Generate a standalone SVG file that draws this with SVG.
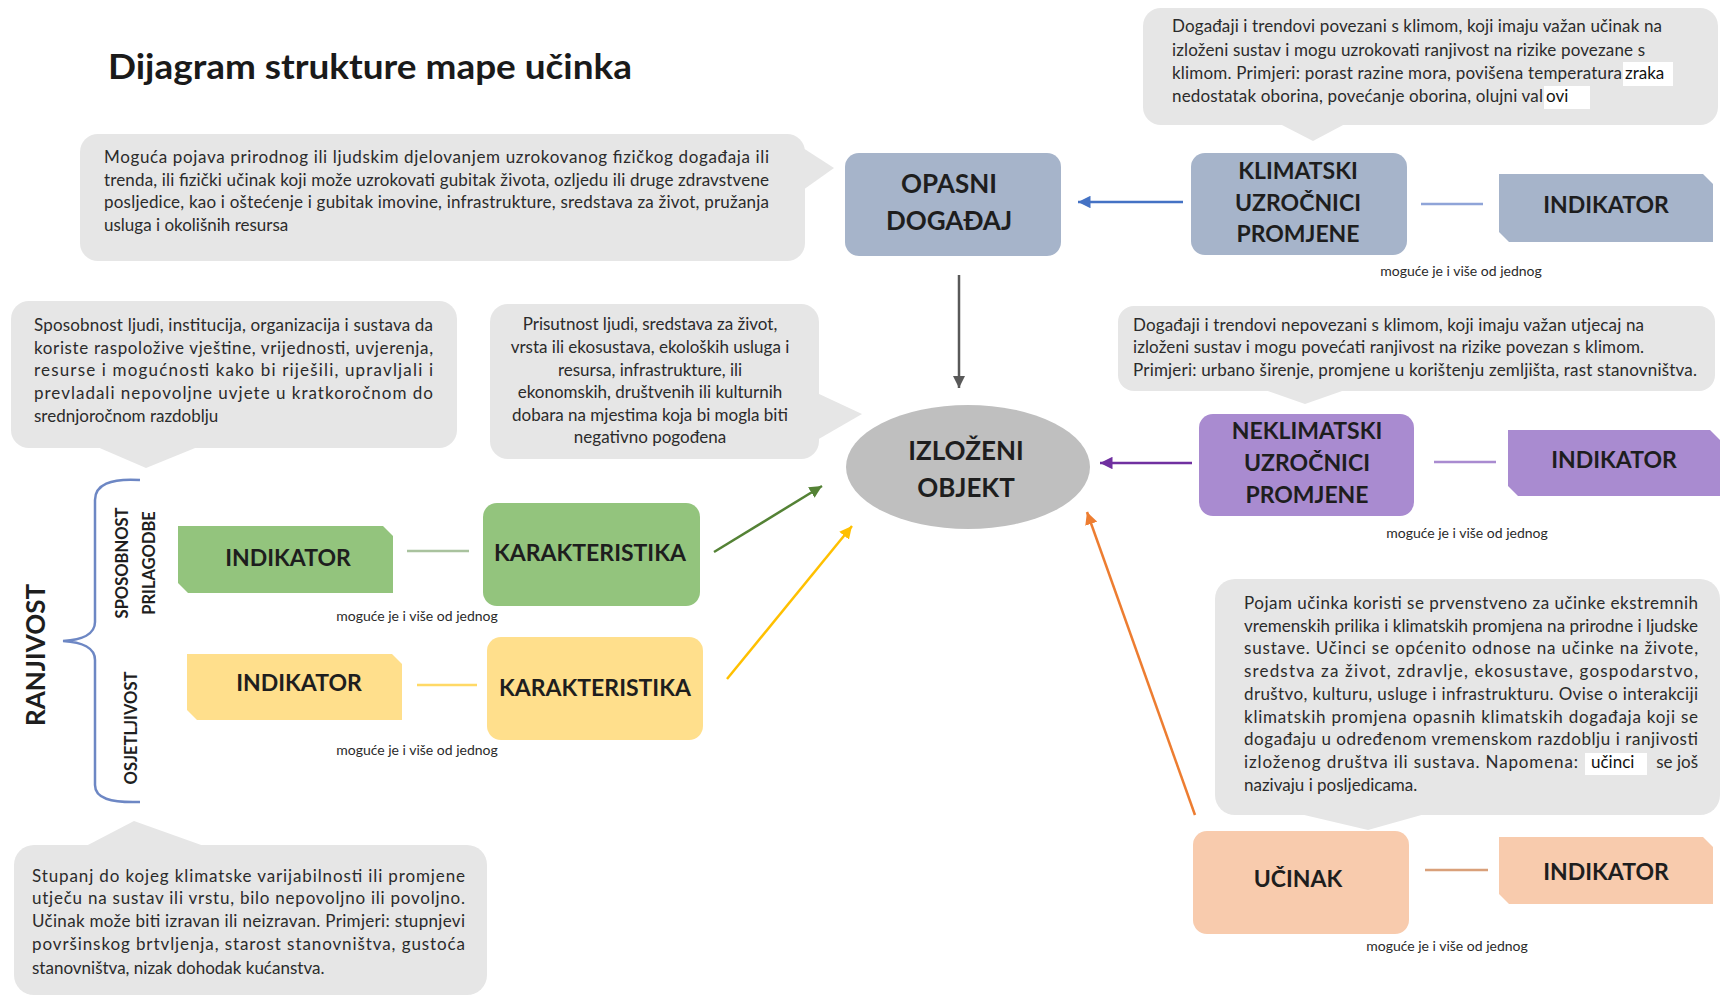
<svg xmlns="http://www.w3.org/2000/svg" width="1722" height="997" viewBox="0 0 1722 997">
<style>
.bg{fill:#ffffff}
.callout{fill:#e6e6e6}
.body{font-family:Lato,"Liberation Sans",sans-serif;font-size:17px;fill:#2b2b2b}
.mid{text-anchor:middle}
.lbl{font-family:Lato,"Liberation Sans",sans-serif;font-weight:bold;fill:#1e1e1e;text-anchor:middle}
.big{font-size:26px}
.med{font-size:23px}
.small{font-family:Lato,"Liberation Sans",sans-serif;font-size:14px;fill:#2a2a2a;text-anchor:middle}
.side{font-family:Lato,"Liberation Sans",sans-serif;font-weight:bold;fill:#1e1e1e;text-anchor:middle}
.patch{fill:#ffffff}
.ptext{font-family:Lato,"Liberation Sans",sans-serif;font-size:17px;fill:#111}
.blue{fill:#a6b4ca}
.purple{fill:#a98bd0}
.green{fill:#93c47d}
.yellow{fill:#ffdf8c}
.peach{fill:#f8cbad}
.conn{fill:none;stroke-width:2.5}
</style>
<defs>
<marker id="ah-grey" viewBox="0 0 10 10" refX="10" refY="5" markerWidth="5" markerHeight="5" orient="auto" markerUnits="strokeWidth"><path d="M0,0 L10,5 L0,10 Z" fill="#595959"/></marker>
<marker id="ah-blue" viewBox="0 0 10 10" refX="10" refY="5" markerWidth="5" markerHeight="5" orient="auto" markerUnits="strokeWidth"><path d="M0,0 L10,5 L0,10 Z" fill="#4472c4"/></marker>
<marker id="ah-purple" viewBox="0 0 10 10" refX="10" refY="5" markerWidth="5" markerHeight="5" orient="auto" markerUnits="strokeWidth"><path d="M0,0 L10,5 L0,10 Z" fill="#7030a0"/></marker>
<marker id="ah-green" viewBox="0 0 10 10" refX="10" refY="5" markerWidth="5" markerHeight="5" orient="auto" markerUnits="strokeWidth"><path d="M0,0 L10,5 L0,10 Z" fill="#548235"/></marker>
<marker id="ah-yellow" viewBox="0 0 10 10" refX="10" refY="5" markerWidth="5" markerHeight="5" orient="auto" markerUnits="strokeWidth"><path d="M0,0 L10,5 L0,10 Z" fill="#ffc000"/></marker>
<marker id="ah-orange" viewBox="0 0 10 10" refX="10" refY="5" markerWidth="5" markerHeight="5" orient="auto" markerUnits="strokeWidth"><path d="M0,0 L10,5 L0,10 Z" fill="#ed7d31"/></marker>
</defs>
<rect class="bg" x="0" y="0" width="1722" height="997"/>

<text x="108" y="79" font-family="Lato, 'Liberation Sans', sans-serif" font-weight="bold" font-size="35" fill="#1a1a1a" textLength="524" lengthAdjust="spacingAndGlyphs">Dijagram strukture mape učinka</text>

<!-- callout: hazard description -->
<g id="callout-hazard">
<rect class="callout" x="80" y="134" width="725" height="127" rx="18"/>
<polygon class="callout" points="803,148 834,168 803,190"/>
<text class="body" x="104" y="163" textLength="665" lengthAdjust="spacing">Moguća pojava prirodnog ili ljudskim djelovanjem uzrokovanog fizičkog događaja ili</text>
<text class="body" x="104" y="186" textLength="665" lengthAdjust="spacing">trenda, ili fizički učinak koji može uzrokovati gubitak života, ozljedu ili druge zdravstvene</text>
<text class="body" x="104" y="208" textLength="665" lengthAdjust="spacing">posljedice, kao i oštećenje i gubitak imovine, infrastrukture, sredstava za život, pružanja</text>
<text class="body" x="104" y="231">usluga i okolišnih resursa</text>
</g>

<!-- callout: climate drivers -->
<g id="callout-climate">
<rect class="callout" x="1143" y="8" width="575" height="117" rx="18"/>
<polygon class="callout" points="1280,124 1313,141 1345,124"/>
<text class="body" x="1172" y="32" textLength="490" lengthAdjust="spacing">Događaji i trendovi povezani s klimom, koji imaju važan učinak na</text>
<text class="body" x="1172" y="56" textLength="473" lengthAdjust="spacing">izloženi sustav i mogu uzrokovati ranjivost na rizike povezane s</text>
<text class="body" x="1172" y="79" textLength="450" lengthAdjust="spacing">klimom. Primjeri: porast razine mora, povišena temperatura</text>
<text class="body" x="1172" y="102" textLength="371" lengthAdjust="spacing">nedostatak oborina, povećanje oborina, olujni val</text>
<rect class="patch" x="1623" y="62" width="50" height="24"/>
<text class="ptext" x="1625" y="79">zraka</text>
<rect class="patch" x="1544" y="86" width="46" height="23"/>
<text class="ptext" x="1546" y="102">ovi</text>
</g>

<!-- callout: adaptive capacity -->
<g id="callout-adaptive">
<rect class="callout" x="11" y="301" width="446" height="147" rx="18"/>
<polygon class="callout" points="95,446 146,468 200,446"/>
<text class="body" x="34" y="331" textLength="399" lengthAdjust="spacing">Sposobnost ljudi, institucija, organizacija i sustava da</text>
<text class="body" x="34" y="354" textLength="399" lengthAdjust="spacing">koriste raspoložive vještine, vrijednosti, uvjerenja,</text>
<text class="body" x="34" y="376" textLength="399" lengthAdjust="spacing">resurse i mogućnosti kako bi riješili, upravljali i</text>
<text class="body" x="34" y="399" textLength="399" lengthAdjust="spacing">prevladali nepovoljne uvjete u kratkoročnom do</text>
<text class="body" x="34" y="422">srednjoročnom razdoblju</text>
</g>

<!-- callout: exposure -->
<g id="callout-exposure">
<rect class="callout" x="490" y="304" width="329" height="155" rx="18"/>
<polygon class="callout" points="817,393 862,414 817,440"/>
<text class="body mid" x="650" y="330">Prisutnost ljudi, sredstava za život,</text>
<text class="body mid" x="650" y="353">vrsta ili ekosustava, ekoloških usluga i</text>
<text class="body mid" x="650" y="376">resursa, infrastrukture, ili</text>
<text class="body mid" x="650" y="398">ekonomskih, društvenih ili kulturnih</text>
<text class="body mid" x="650" y="421">dobara na mjestima koja bi mogla biti</text>
<text class="body mid" x="650" y="443">negativno pogođena</text>
</g>

<!-- callout: non-climate drivers -->
<g id="callout-nonclimate">
<rect class="callout" x="1118" y="306" width="597" height="85" rx="16"/>
<polygon class="callout" points="1265,390 1305,404 1345,390"/>
<text class="body" x="1133" y="331" textLength="511" lengthAdjust="spacing">Događaji i trendovi nepovezani s klimom, koji imaju važan utjecaj na</text>
<text class="body" x="1133" y="353" textLength="511" lengthAdjust="spacing">izloženi sustav i mogu povećati ranjivost na rizike povezan s klimom.</text>
<text class="body" x="1133" y="376" textLength="564" lengthAdjust="spacing">Primjeri: urbano širenje, promjene u korištenju zemljišta, rast stanovništva.</text>
</g>

<!-- callout: impact -->
<g id="callout-impact">
<rect class="callout" x="1215" y="579" width="505" height="236" rx="20"/>
<polygon class="callout" points="1300,814 1368,830 1425,814"/>
<text class="body" x="1244" y="609" textLength="454" lengthAdjust="spacing">Pojam učinka koristi se prvenstveno za učinke ekstremnih</text>
<text class="body" x="1244" y="632" textLength="454" lengthAdjust="spacing">vremenskih prilika i klimatskih promjena na prirodne i ljudske</text>
<text class="body" x="1244" y="654" textLength="454" lengthAdjust="spacing">sustave. Učinci se općenito odnose na učinke na živote,</text>
<text class="body" x="1244" y="677" textLength="454" lengthAdjust="spacing">sredstva za život, zdravlje, ekosustave, gospodarstvo,</text>
<text class="body" x="1244" y="700" textLength="454" lengthAdjust="spacing">društvo, kulturu, usluge i infrastrukturu. Ovise o interakciji</text>
<text class="body" x="1244" y="723" textLength="454" lengthAdjust="spacing">klimatskih promjena opasnih klimatskih događaja koji se</text>
<text class="body" x="1244" y="745" textLength="454" lengthAdjust="spacing">događaju u određenom vremenskom razdoblju i ranjivosti</text>
<text class="body" x="1244" y="768" textLength="334" lengthAdjust="spacing">izloženog društva ili sustava.  Napomena:</text>
<rect class="patch" x="1585" y="753" width="62" height="22"/>
<text class="ptext" x="1591" y="768">učinci</text>
<text class="body" x="1698" y="768" text-anchor="end">se još</text>
<text class="body" x="1244" y="791">nazivaju i posljedicama.</text>
</g>

<!-- callout: sensitivity -->
<g id="callout-sensitivity">
<rect class="callout" x="14" y="845" width="473" height="150" rx="20"/>
<polygon class="callout" points="86,846 134,821 204,846"/>
<text class="body" x="32" y="882" textLength="433" lengthAdjust="spacing">Stupanj do kojeg klimatske varijabilnosti ili promjene</text>
<text class="body" x="32" y="904" textLength="433" lengthAdjust="spacing">utječu na sustav ili vrstu, bilo nepovoljno ili povoljno.</text>
<text class="body" x="32" y="927" textLength="433" lengthAdjust="spacing">Učinak može biti izravan ili neizravan. Primjeri: stupnjevi</text>
<text class="body" x="32" y="950" textLength="433" lengthAdjust="spacing">površinskog brtvljenja, starost stanovništva, gustoća</text>
<text class="body" x="32" y="974">stanovništva, nizak dohodak kućanstva.</text>
</g>

<!-- connectors -->
<g id="connectors">
<line class="conn" x1="959" y1="275" x2="959" y2="388" stroke="#595959" stroke-width="2" marker-end="url(#ah-grey)"/>
<line class="conn" x1="1183" y1="202" x2="1078" y2="202" stroke="#4472c4" marker-end="url(#ah-blue)"/>
<line class="conn" x1="1192" y1="463" x2="1100" y2="463" stroke="#7030a0" marker-end="url(#ah-purple)"/>
<line class="conn" x1="714" y1="552" x2="822" y2="486" stroke="#548235" marker-end="url(#ah-green)"/>
<line class="conn" x1="727" y1="679" x2="852" y2="526" stroke="#ffc000" marker-end="url(#ah-yellow)"/>
<line class="conn" x1="1195" y1="815" x2="1087" y2="512" stroke="#ed7d31" marker-end="url(#ah-orange)"/>
<line class="conn" x1="1421" y1="204" x2="1483" y2="204" stroke="#8fa4d8" stroke-width="2"/>
<line class="conn" x1="1434" y1="462" x2="1496" y2="462" stroke="#a98bd0" stroke-width="2"/>
<line class="conn" x1="407" y1="551" x2="469" y2="551" stroke="#a9c29e" stroke-width="2"/>
<line class="conn" x1="417" y1="685" x2="477" y2="685" stroke="#ffd966" stroke-width="2"/>
<line class="conn" x1="1425" y1="870" x2="1488" y2="870" stroke="#d9a07a" stroke-width="2"/>
<path class="conn" d="M140,480 C110,478 95,485 95,500 L95,622 C95,634 82,640 63,641 C82,642 95,648 95,660 L95,785 C95,798 110,803 140,802" stroke="#6d87c4" stroke-width="1.6"/>
</g>

<!-- nodes -->
<g id="node-opasni">
<rect class="blue" x="845" y="153" width="216" height="103" rx="14"/>
<text class="lbl big" x="949" y="193">OPASNI</text>
<text class="lbl big" x="949" y="230">DOGAĐAJ</text>
</g>
<g id="node-izlozeni">
<ellipse cx="968" cy="467" rx="122" ry="62" fill="#bfbfbf"/>
<text class="lbl big" x="966" y="460">IZLOŽENI</text>
<text class="lbl big" x="966" y="497">OBJEKT</text>
</g>
<g id="node-klimatski">
<rect class="blue" x="1191" y="153" width="216" height="102" rx="14"/>
<text class="lbl med" x="1298" y="179">KLIMATSKI</text>
<text class="lbl med" x="1298" y="211">UZROČNICI</text>
<text class="lbl med" x="1298" y="242">PROMJENE</text>
</g>
<g id="node-indikator-klimatski">
<path class="blue" d="M1499,174 H1703 L1713,184 V242 H1509 L1499,232 Z"/>
<text class="lbl med" x="1606" y="213">INDIKATOR</text>
<text class="small" x="1461" y="276">moguće je i više od jednog</text>
</g>
<g id="node-neklimatski">
<rect class="purple" x="1199" y="414" width="215" height="102" rx="14"/>
<text class="lbl med" x="1307" y="439">NEKLIMATSKI</text>
<text class="lbl med" x="1307" y="471">UZROČNICI</text>
<text class="lbl med" x="1307" y="503">PROMJENE</text>
</g>
<g id="node-indikator-neklimatski">
<path class="purple" d="M1508,430 H1710 L1720,440 V496 H1518 L1508,486 Z"/>
<text class="lbl med" x="1614" y="468">INDIKATOR</text>
<text class="small" x="1467" y="538">moguće je i više od jednog</text>
</g>
<g id="node-ranjivost">
<text class="side" font-size="26" transform="translate(45,655) rotate(-90)">RANJIVOST</text>
</g>
<g id="node-sposobnost">
<text class="side" font-size="16.5" transform="translate(128,563) rotate(-90)">SPOSOBNOST</text>
<text class="side" font-size="16.5" transform="translate(155,563) rotate(-90)">PRILAGODBE</text>
</g>
<g id="node-osjetljivost">
<text class="side" font-size="16.5" transform="translate(137,728) rotate(-90)">OSJETLJIVOST</text>
</g>
<g id="node-indikator-green">
<path class="green" d="M178,526 H383 L393,536 V593 H188 L178,583 Z"/>
<text class="lbl med" x="288" y="566">INDIKATOR</text>
<text class="small" x="417" y="621">moguće je i više od jednog</text>
</g>
<g id="node-karakteristika-green">
<rect class="green" x="483" y="503" width="217" height="103" rx="14"/>
<text class="lbl med" x="590" y="561">KARAKTERISTIKA</text>
</g>
<g id="node-indikator-yellow">
<path class="yellow" d="M187,654 H392 L402,664 V720 H197 L187,710 Z"/>
<text class="lbl med" x="299" y="691">INDIKATOR</text>
<text class="small" x="417" y="755">moguće je i više od jednog</text>
</g>
<g id="node-karakteristika-yellow">
<rect class="yellow" x="487" y="637" width="216" height="103" rx="14"/>
<text class="lbl med" x="595" y="696">KARAKTERISTIKA</text>
</g>
<g id="node-ucinak">
<rect class="peach" x="1193" y="831" width="216" height="103" rx="14"/>
<text class="lbl med" x="1298" y="887">UČINAK</text>
</g>
<g id="node-indikator-ucinak">
<path class="peach" d="M1499,837 H1703 L1713,847 V904 H1509 L1499,894 Z"/>
<text class="lbl med" x="1606" y="880">INDIKATOR</text>
<text class="small" x="1447" y="951">moguće je i više od jednog</text>
</g>
</svg>
